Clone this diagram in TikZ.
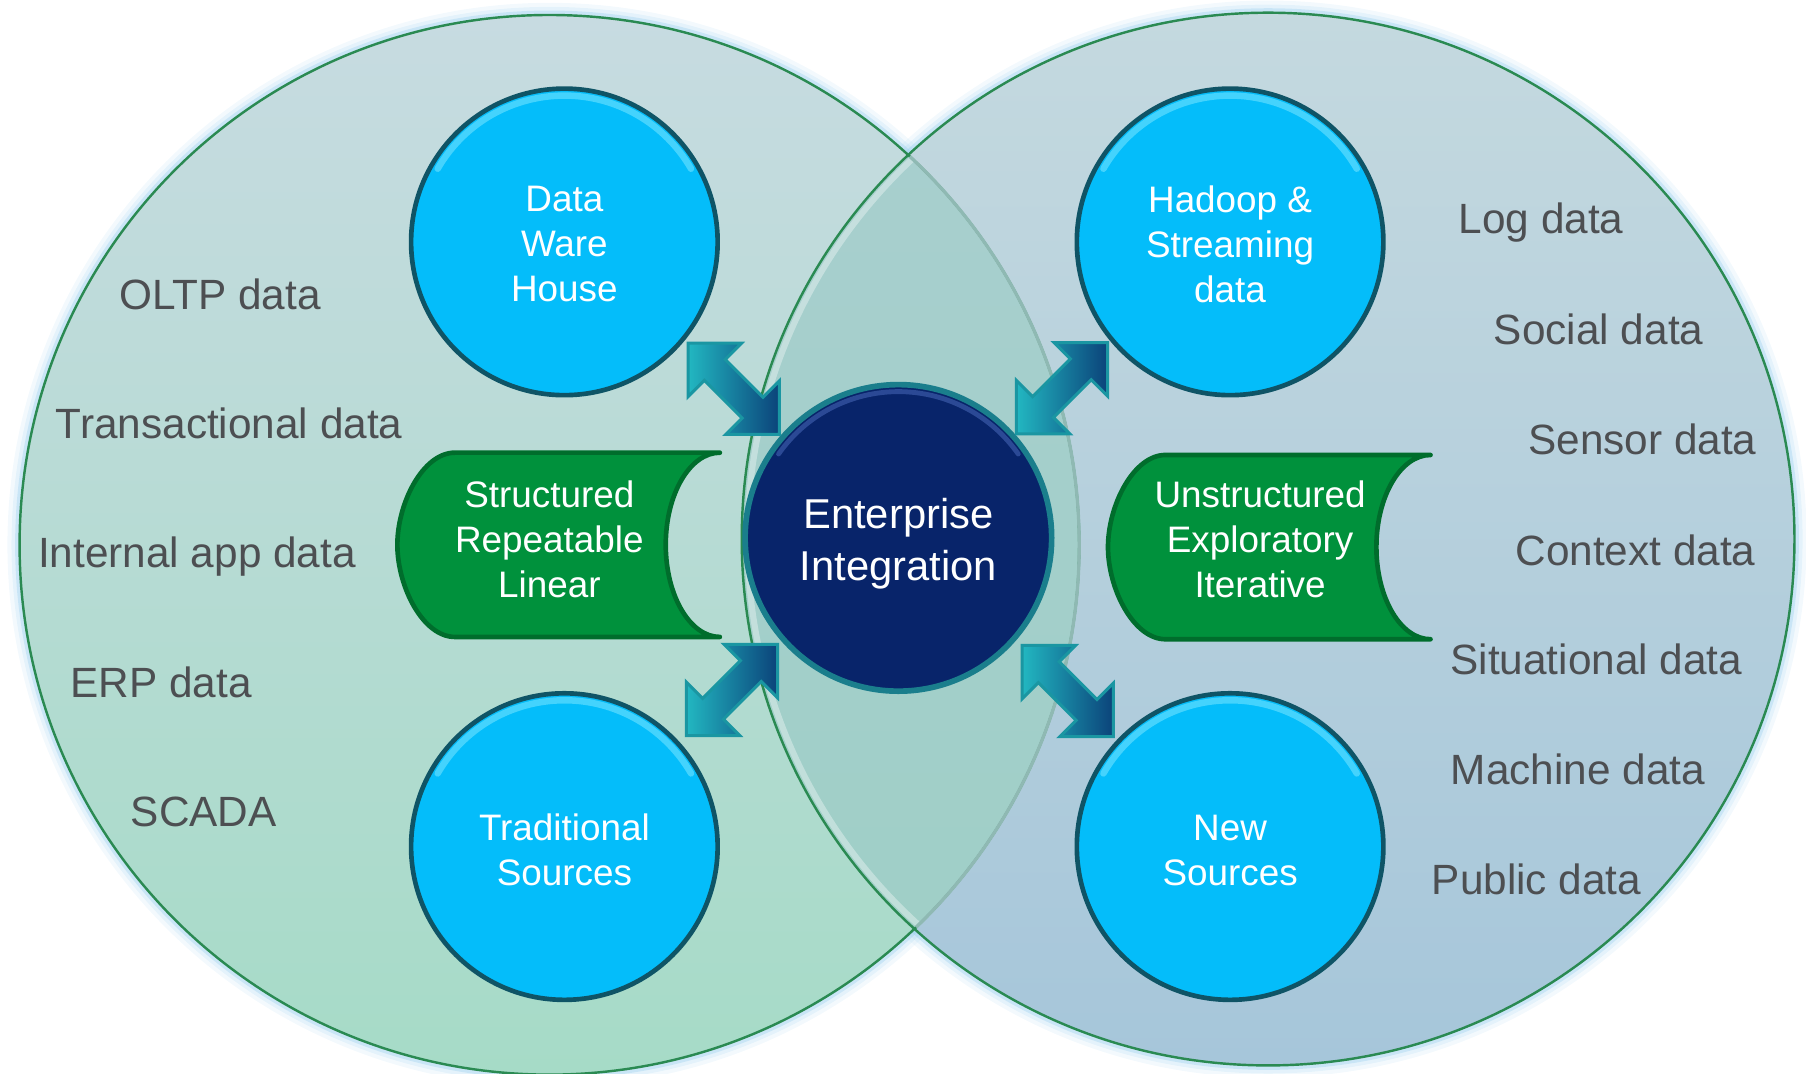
\documentclass[tikz,border=0pt]{standalone}
\usepackage{fontspec}
\setmainfont{Liberation Sans}
\usetikzlibrary{shapes.arrows}
\definecolor{lt}{HTML}{C7DBE1}
\definecolor{lm}{HTML}{B5D9D2}
\definecolor{lb}{HTML}{A6DBC7}
\definecolor{rt}{HTML}{C4D9DF}
\definecolor{rm}{HTML}{B3D5D6}
\definecolor{rb}{HTML}{A6C6DA}
\definecolor{it}{HTML}{A9CFCF}
\definecolor{ib}{HTML}{9ECFC6}
\definecolor{glowc}{HTML}{8CC8EC}
\definecolor{bordc}{HTML}{2A8A52}
\definecolor{innerarc}{HTML}{8FB9B3}
\definecolor{skyc}{HTML}{04BDFA}
\definecolor{rimc}{HTML}{0F5466}
\definecolor{hlc}{HTML}{6FE2FF}
\definecolor{navyc}{HTML}{08246A}
\definecolor{navyrim}{HTML}{1A7E8C}
\definecolor{navyhl}{HTML}{3A5AA8}
\definecolor{bang}{HTML}{00913C}
\definecolor{banb}{HTML}{006D2C}
\definecolor{labc}{HTML}{4D4F52}
\definecolor{arrl}{HTML}{22B7C1}
\definecolor{arrm}{HTML}{1AA6B6}
\definecolor{arrd}{HTML}{0B437A}
\definecolor{arrb}{HTML}{1A96A2}
\tikzset{
  src/.style={circle, minimum size=2.66cm, inner sep=0pt, fill=skyc, draw=rimc, line width=1.15pt},
  srctext/.style={text=white, align=center, font=\fontsize{9.1}{11.1}\selectfont, inner sep=0pt},
  hub/.style={circle, minimum size=2.66cm, inner sep=0pt, fill=navyc, draw=navyrim, line width=1.4pt},
  hubtext/.style={text=white, align=center, font=\fontsize{10.3}{12.8}\selectfont, inner sep=0pt},
  hlarc/.style={hlc, line width=1.6pt, opacity=0.6, line cap=round},
  banner/.style={fill=bang, draw=banb, line width=1.15pt, line join=round, line cap=round},
  bantext/.style={text=white, align=center, font=\fontsize{9.1}{11.1}\selectfont, inner sep=0pt},
  lbl/.style={text=labc, font=\fontsize{10.45}{12.5}\selectfont, anchor=base, inner sep=0pt},
  darr/.style={shape=double arrow, double arrow tip angle=90, double arrow head extend=0.2cm,
    minimum height=1.12cm, minimum width=0.63cm, inner xsep=0pt, inner ysep=0.115cm,
    draw=arrb, line width=0.75pt, line join=miter,
    left color=arrl, middle color=arrm, right color=arrd},
}
\begin{document}
\begin{tikzpicture}[x=0.01cm,y=-0.01cm]
\useasboundingbox (0,0) rectangle (1568,932);
% glow
\foreach \w/\o in {6pt/0.10,4pt/0.15,2.2pt/0.3}{
  \draw[glowc, line width=\w, opacity=\o] (477,473) circle[radius=460];
  \draw[glowc, line width=\w, opacity=\o] (1101,468) circle[radius=457];
}
% big circles
\shade[top color=lt, middle color=lm, bottom color=lb] (477,473) circle[radius=460];
\shade[top color=rt, middle color=rm, bottom color=rb] (1101,468) circle[radius=457];
\begin{scope}
  \clip (477,473) circle[radius=460];
  \shade[top color=it, bottom color=ib] (1101,468) circle[radius=457];
  \draw[white, opacity=0.35, line width=1.5pt] (1101,468) circle[radius=452];
\end{scope}
\draw[bordc, line width=0.6pt] (477,473) circle[radius=460];
\draw[bordc, line width=0.6pt] (1101,468) circle[radius=457];
\begin{scope}
  \clip (1101,468) circle[radius=455];
  \draw[innerarc, line width=0.8pt] (477,473) circle[radius=460];
\end{scope}
% side labels
\node[lbl] (oltp) at (191,269) {OLTP data};
\node[lbl] (trans) at (199,381) {Transactional data};
\node[lbl] (inapp) at (171,493) {Internal app data};
\node[lbl] (erp) at (140,606) {ERP data};
\node[lbl] (scada) at (177,718) {SCADA};
\node[lbl] (log) at (1338,203) {Log data};
\node[lbl] (social) at (1388,299) {Social data};
\node[lbl] (sensor) at (1426,395) {Sensor data};
\node[lbl] (context) at (1420,491) {Context data};
\node[lbl] (situ) at (1386,586) {Situational data};
\node[lbl] (mach) at (1370,681) {Machine data};
\node[lbl] (public) at (1334,777) {Public data};
% banners
\draw[banner] (625,393) -- (395,393) .. controls (367,393) and (345,437) .. (345,473)
  .. controls (345,509) and (367,553) .. (395,553) -- (625,553)
  .. controls (599,553) and (578,517) .. (578,473) .. controls (578,429) and (599,393) .. cycle;
\node[bantext] (struct) at (477,468) {Structured\\Repeatable\\Linear};
\draw[banner] (1242,395) -- (1012,395) .. controls (984,395) and (962,439) .. (962,475)
  .. controls (962,511) and (984,555) .. (1012,555) -- (1242,555)
  .. controls (1216,555) and (1195,519) .. (1195,475) .. controls (1195,431) and (1216,395) .. cycle;
\node[bantext] (unstruct) at (1094,468) {Unstructured\\Exploratory\\Iterative};
% source circles
\node[src] (dwh) at (490,210) {};
\node[src] (had) at (1068,210) {};
\node[src] (trad) at (490,735) {};
\node[src] (new) at (1068,735) {};
\foreach \c in {dwh,had,trad,new}{
  \draw[hlarc] (\c.center) ++(210:127) arc[start angle=210, end angle=330, radius=127];
}
\node[srctext] (dwht) at (490,212) {Data\\Ware\\House};
\node[srctext] (hadt) at (1068,212) {Hadoop \&\\Streaming\\data};
\node[srctext] (tradt) at (490,738) {Traditional\\Sources};
\node[srctext] (newt) at (1068,738) {New\\Sources};
% hub
\node[hub] (ei) at (780,467) {};
\draw[navyhl, line width=1.2pt, opacity=0.7, line cap=round] (ei.center) ++(215:127) arc[start angle=215, end angle=325, radius=127];
\node[hubtext] (eit) at (780,472) {Enterprise\\Integration};
% arrows
\node[darr, rotate=-45] (a1) at (637,337.5) {};
\node[darr, rotate=-135] (a2) at (922,337) {};
\node[darr, rotate=45] (a3) at (635.5,599) {};
\node[darr, rotate=135] (a4) at (927,600) {};
\end{tikzpicture}
\end{document}
